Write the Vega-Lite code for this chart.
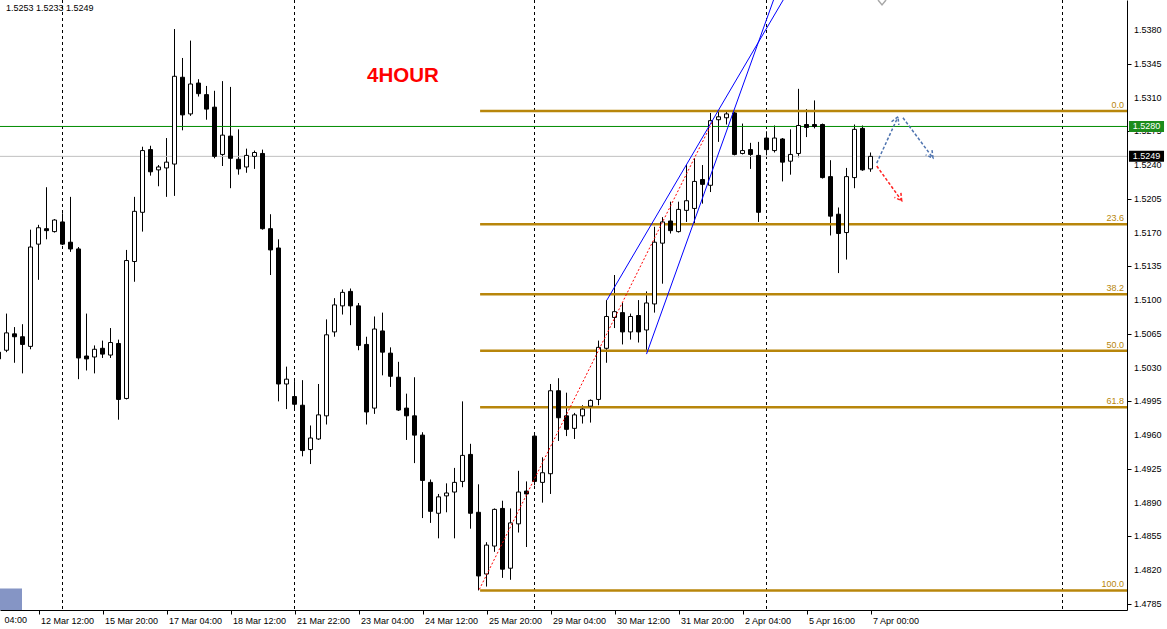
{
  "$schema": "https://vega.github.io/schema/vega-lite/v6.json",
  "width": 1167,
  "height": 629,
  "autosize": {"type": "fit", "contains": "padding"},
  "padding": {"left": 0, "top": 0, "right": 1, "bottom": 4},
  "background": "white",
  "config": {
    "view": {"stroke": null},
    "scale": {"continuousPadding": 0},
    "axis": {"domainWidth": 1, "tickWidth": 1, "labelOverlap": false, "labelBound": false, "labelFlush": false}
  },
  "datasets": {
    "candles": [
      {"k":-1,"o":1.5046,"h":1.5052,"l":1.5035,"c":1.5039},
      {"k":0,"o":1.5048,"h":1.5086,"l":1.5046,"c":1.5066},
      {"k":1,"o":1.5065,"h":1.5072,"l":1.5035,"c":1.5062},
      {"k":2,"o":1.5062,"h":1.5075,"l":1.5024,"c":1.5054},
      {"k":3,"o":1.5052,"h":1.5173,"l":1.5049,"c":1.5155},
      {"k":4,"o":1.5158,"h":1.5178,"l":1.5121,"c":1.5175},
      {"k":5,"o":1.5174,"h":1.5217,"l":1.5163,"c":1.5172},
      {"k":6,"o":1.5171,"h":1.5184,"l":1.5170,"c":1.5183},
      {"k":7,"o":1.5181,"h":1.5190,"l":1.5157,"c":1.5158},
      {"k":8,"o":1.5160,"h":1.5207,"l":1.5150,"c":1.5153},
      {"k":9,"o":1.5153,"h":1.5155,"l":1.5018,"c":1.5040},
      {"k":10,"o":1.5042,"h":1.5086,"l":1.5027,"c":1.5039},
      {"k":11,"o":1.5041,"h":1.5053,"l":1.5024,"c":1.5049},
      {"k":12,"o":1.5050,"h":1.5058,"l":1.5040,"c":1.5044},
      {"k":13,"o":1.5043,"h":1.5071,"l":1.5040,"c":1.5056},
      {"k":14,"o":1.5055,"h":1.5059,"l":1.4976,"c":1.4997},
      {"k":15,"o":1.4998,"h":1.5152,"l":1.4997,"c":1.5141},
      {"k":16,"o":1.5140,"h":1.5207,"l":1.5119,"c":1.5192},
      {"k":17,"o":1.5191,"h":1.5259,"l":1.5171,"c":1.5255},
      {"k":18,"o":1.5256,"h":1.5260,"l":1.5229,"c":1.5233},
      {"k":19,"o":1.5235,"h":1.5240,"l":1.5218,"c":1.5238},
      {"k":20,"o":1.5237,"h":1.5268,"l":1.5207,"c":1.5243},
      {"k":21,"o":1.5241,"h":1.5381,"l":1.5208,"c":1.5332},
      {"k":22,"o":1.5331,"h":1.5351,"l":1.5276,"c":1.5292},
      {"k":23,"o":1.5293,"h":1.5369,"l":1.5291,"c":1.5324},
      {"k":24,"o":1.5325,"h":1.5329,"l":1.5311,"c":1.5314},
      {"k":25,"o":1.5313,"h":1.5322,"l":1.5287,"c":1.5298},
      {"k":26,"o":1.5300,"h":1.5317,"l":1.5247,"c":1.5249},
      {"k":27,"o":1.5251,"h":1.5327,"l":1.5239,"c":1.5271},
      {"k":28,"o":1.5270,"h":1.5321,"l":1.5216,"c":1.5247},
      {"k":29,"o":1.5246,"h":1.5277,"l":1.5230,"c":1.5236},
      {"k":30,"o":1.5238,"h":1.5257,"l":1.5232,"c":1.5250},
      {"k":31,"o":1.5249,"h":1.5255,"l":1.5236,"c":1.5253},
      {"k":32,"o":1.5252,"h":1.5256,"l":1.5173,"c":1.5174},
      {"k":33,"o":1.5174,"h":1.5189,"l":1.5126,"c":1.5152},
      {"k":34,"o":1.5154,"h":1.5163,"l":1.4995,"c":1.5013},
      {"k":35,"o":1.5013,"h":1.5031,"l":1.4987,"c":1.5018},
      {"k":36,"o":1.5000,"h":1.5016,"l":1.4987,"c":1.4992},
      {"k":37,"o":1.4991,"h":1.5017,"l":1.4938,"c":1.4944},
      {"k":38,"o":1.4945,"h":1.4970,"l":1.4930,"c":1.4957},
      {"k":39,"o":1.4956,"h":1.5013,"l":1.4955,"c":1.4981},
      {"k":40,"o":1.4980,"h":1.5080,"l":1.4971,"c":1.5064},
      {"k":41,"o":1.5067,"h":1.5102,"l":1.5062,"c":1.5095},
      {"k":42,"o":1.5094,"h":1.5111,"l":1.5085,"c":1.5108},
      {"k":43,"o":1.5109,"h":1.5112,"l":1.5074,"c":1.5094},
      {"k":44,"o":1.5094,"h":1.5097,"l":1.5048,"c":1.5053},
      {"k":45,"o":1.5054,"h":1.5062,"l":1.4971,"c":1.4984},
      {"k":46,"o":1.4988,"h":1.5083,"l":1.4982,"c":1.5070},
      {"k":47,"o":1.5068,"h":1.5087,"l":1.5022,"c":1.5046},
      {"k":48,"o":1.5045,"h":1.5051,"l":1.5010,"c":1.5021},
      {"k":49,"o":1.5020,"h":1.5036,"l":1.4985,"c":1.4986},
      {"k":50,"o":1.4988,"h":1.5003,"l":1.4955,"c":1.4980},
      {"k":51,"o":1.4980,"h":1.5020,"l":1.4931,"c":1.4960},
      {"k":52,"o":1.4960,"h":1.4963,"l":1.4874,"c":1.4913},
      {"k":53,"o":1.4911,"h":1.4914,"l":1.4869,"c":1.4881},
      {"k":54,"o":1.4879,"h":1.4899,"l":1.4853,"c":1.4896},
      {"k":55,"o":1.4897,"h":1.4910,"l":1.4880,"c":1.4900},
      {"k":56,"o":1.4901,"h":1.4926,"l":1.4853,"c":1.4911},
      {"k":57,"o":1.4912,"h":1.4995,"l":1.4906,"c":1.4939},
      {"k":58,"o":1.4940,"h":1.4951,"l":1.4863,"c":1.4879},
      {"k":59,"o":1.4880,"h":1.4909,"l":1.4799,"c":1.4814},
      {"k":60,"o":1.4816,"h":1.4849,"l":1.4803,"c":1.4846},
      {"k":61,"o":1.4845,"h":1.4884,"l":1.4839,"c":1.4883},
      {"k":62,"o":1.4884,"h":1.4892,"l":1.4812,"c":1.4821},
      {"k":63,"o":1.4822,"h":1.4884,"l":1.4810,"c":1.4869},
      {"k":64,"o":1.4868,"h":1.4923,"l":1.4859,"c":1.4901},
      {"k":65,"o":1.4902,"h":1.4912,"l":1.4844,"c":1.4899},
      {"k":66,"o":1.4959,"h":1.4961,"l":1.4908,"c":1.4912},
      {"k":67,"o":1.4911,"h":1.4937,"l":1.4890,"c":1.4921},
      {"k":68,"o":1.4920,"h":1.5013,"l":1.4899,"c":1.5006},
      {"k":69,"o":1.5006,"h":1.5019,"l":1.4954,"c":1.4978},
      {"k":70,"o":1.4980,"h":1.5004,"l":1.4959,"c":1.4966},
      {"k":71,"o":1.4967,"h":1.4983,"l":1.4956,"c":1.4981},
      {"k":72,"o":1.4980,"h":1.4991,"l":1.4972,"c":1.4987},
      {"k":73,"o":1.4990,"h":1.4997,"l":1.4973,"c":1.4996},
      {"k":74,"o":1.4997,"h":1.5058,"l":1.4991,"c":1.5051},
      {"k":75,"o":1.5050,"h":1.5100,"l":1.5035,"c":1.5083},
      {"k":76,"o":1.5082,"h":1.5126,"l":1.5071,"c":1.5088},
      {"k":77,"o":1.5087,"h":1.5097,"l":1.5054,"c":1.5067},
      {"k":78,"o":1.5067,"h":1.5086,"l":1.5059,"c":1.5083},
      {"k":79,"o":1.5084,"h":1.5100,"l":1.5056,"c":1.5067},
      {"k":80,"o":1.5069,"h":1.5109,"l":1.5046,"c":1.5097},
      {"k":81,"o":1.5096,"h":1.5176,"l":1.5087,"c":1.5160},
      {"k":82,"o":1.5159,"h":1.5186,"l":1.5117,"c":1.5181},
      {"k":83,"o":1.5182,"h":1.5202,"l":1.5169,"c":1.5172},
      {"k":84,"o":1.5171,"h":1.5202,"l":1.5170,"c":1.5194},
      {"k":85,"o":1.5193,"h":1.5240,"l":1.5181,"c":1.5203},
      {"k":86,"o":1.5195,"h":1.5247,"l":1.5179,"c":1.5223},
      {"k":87,"o":1.5225,"h":1.5240,"l":1.5200,"c":1.5220},
      {"k":88,"o":1.5219,"h":1.5294,"l":1.5212,"c":1.5286},
      {"k":89,"o":1.5287,"h":1.5296,"l":1.5264,"c":1.5290},
      {"k":90,"o":1.5289,"h":1.5296,"l":1.5282,"c":1.5293},
      {"k":91,"o":1.5294,"h":1.5296,"l":1.5250,"c":1.5251},
      {"k":92,"o":1.5252,"h":1.5283,"l":1.5251,"c":1.5255},
      {"k":93,"o":1.5256,"h":1.5263,"l":1.5236,"c":1.5251},
      {"k":94,"o":1.5250,"h":1.5264,"l":1.5181,"c":1.5191},
      {"k":95,"o":1.5268,"h":1.5275,"l":1.5250,"c":1.5256},
      {"k":96,"o":1.5255,"h":1.5281,"l":1.5253,"c":1.5268},
      {"k":97,"o":1.5267,"h":1.5268,"l":1.5223,"c":1.5243},
      {"k":98,"o":1.5244,"h":1.5277,"l":1.5230,"c":1.5251},
      {"k":99,"o":1.5252,"h":1.5319,"l":1.5248,"c":1.5281},
      {"k":100,"o":1.5282,"h":1.5298,"l":1.5269,"c":1.5279},
      {"k":101,"o":1.5282,"h":1.5307,"l":1.5278,"c":1.5280},
      {"k":102,"o":1.5282,"h":1.5283,"l":1.5226,"c":1.5227},
      {"k":103,"o":1.5228,"h":1.5245,"l":1.5167,"c":1.5187},
      {"k":104,"o":1.5189,"h":1.5196,"l":1.5128,"c":1.5169},
      {"k":105,"o":1.5170,"h":1.5237,"l":1.5142,"c":1.5228},
      {"k":106,"o":1.5227,"h":1.5282,"l":1.5216,"c":1.5277},
      {"k":107,"o":1.5278,"h":1.5281,"l":1.5234,"c":1.5235},
      {"k":108,"o":1.5236,"h":1.5253,"l":1.5233,"c":1.5249}
    ],
    "separators": [{"k":7},{"k":36},{"k":66},{"k":95},{"k":132}],
    "pticks": [
      {"p":1.4785},{"p":1.4820},{"p":1.4855},{"p":1.4890},{"p":1.4925},{"p":1.4960},
      {"p":1.4995},{"p":1.5030},{"p":1.5065},{"p":1.5100},{"p":1.5135},{"p":1.5170},
      {"p":1.5205},{"p":1.5240},{"p":1.5275},{"p":1.5310},{"p":1.5345},{"p":1.5380}
    ],
    "fib": [
      {"level":"0.0","p":1.5296},
      {"level":"23.6","p":1.51787},
      {"level":"38.2","p":1.51061},
      {"level":"50.0","p":1.50475},
      {"level":"61.8","p":1.49889},
      {"level":"100.0","p":1.4799}
    ],
    "levels": [
      {"name":"bid","p":1.5249,"t":"1.5249"},
      {"name":"alert","p":1.5280,"t":"1.5280"}
    ],
    "drawings": [
      {"id":"ch1","kind":"channel","o":0,"k":75.05,"p":1.5100},
      {"id":"ch1","kind":"channel","o":1,"k":98.0,"p":1.5424},
      {"id":"ch2","kind":"channel","o":0,"k":80.0,"p":1.5044},
      {"id":"ch2","kind":"channel","o":1,"k":97.0,"p":1.5437},
      {"id":"tr","kind":"trend","o":0,"k":59.1,"p":1.4800},
      {"id":"tr","kind":"trend","o":1,"k":88.2,"p":1.5284},
      {"id":"up","kind":"bull","o":0,"k":108.78,"p":1.5242},
      {"id":"up","kind":"bull","o":1,"k":111.44,"p":1.5290},
      {"id":"uph","kind":"bull","o":0,"k":110.63,"p":1.52849},
      {"id":"uph","kind":"bull","o":1,"k":111.44,"p":1.5290},
      {"id":"uph","kind":"bull","o":2,"k":111.54,"p":1.52815},
      {"id":"dn","kind":"bull","o":0,"k":112.06,"p":1.5289},
      {"id":"dn","kind":"bull","o":1,"k":115.81,"p":1.52473},
      {"id":"dnh","kind":"bull","o":0,"k":115.69,"p":1.52555},
      {"id":"dnh","kind":"bull","o":1,"k":115.81,"p":1.52473},
      {"id":"dnh","kind":"bull","o":2,"k":114.89,"p":1.52505},
      {"id":"rd","kind":"bear","o":0,"k":108.78,"p":1.5239},
      {"id":"rd","kind":"bear","o":1,"k":111.9,"p":1.5203},
      {"id":"rdh","kind":"bear","o":0,"k":111.8,"p":1.52112},
      {"id":"rdh","kind":"bear","o":1,"k":111.9,"p":1.5203},
      {"id":"rdh","kind":"bear","o":2,"k":110.99,"p":1.52065},
      {"id":"gh","kind":"old","o":0,"k":108.94,"p":1.54111},
      {"id":"gh","kind":"old","o":1,"k":109.44,"p":1.5406},
      {"id":"gh","kind":"old","o":2,"k":109.94,"p":1.54111}
    ]
  },
  "layer": [
    {
      "data": {"name": "candles"},
      "mark": {"type": "rule", "color": "#000000", "strokeWidth": 1, "clip": true},
      "encoding": {
        "x": {"field": "k", "type": "quantitative", "scale": {"domain": [-0.8125, 140.0625], "nice": false, "zero": false, "padding": 0},
          "axis": {"title": null, "grid": false, "values": [4,12,20,28,36,44,52,60,68,76,84,92,100,108],
            "labelExpr": "['12 Mar 12:00','15 Mar 20:00','17 Mar 04:00','18 Mar 12:00','21 Mar 22:00','23 Mar 04:00','24 Mar 12:00','25 Mar 20:00','29 Mar 04:00','30 Mar 12:00','31 Mar 20:00','2 Apr 04:00','5 Apr 16:00','7 Apr 00:00'][round((datum.value-4)/8)]",
            "tickSize": 4, "tickColor": "#000000", "domainColor": "#000000", "labelAlign": "left", "labelOffset": 2, "labelPadding": 2, "labelBaseline": "top",
            "labelOverlap": false, "labelBound": false, "labelFlush": false, "labelFont": "Liberation Sans", "labelFontSize": 9, "labelColor": "#000000"}},
        "y": {"field": "l", "type": "quantitative", "scale": {"domain": [1.47787, 1.54111], "nice": false, "zero": false, "padding": 0},
          "axis": {"title": null, "grid": false, "orient": "right", "labels": false,
            "values": [1.4785,1.482,1.4855,1.489,1.4925,1.496,1.4995,1.503,1.5065,1.51,1.5135,1.517,1.5205,1.524,1.5275,1.531,1.5345,1.538],
            "tickSize": 4, "tickColor": "#000000", "domainColor": "#000000"}},
        "y2": {"field": "h"}
      }
    },
    {
      "data": {"name": "separators"},
      "mark": {"type": "rule", "color": "#000000", "strokeWidth": 1, "strokeDash": [3, 3], "clip": true},
      "encoding": {
        "x": {"field": "k", "type": "quantitative", "scale": {"domain": [-0.8125, 140.0625], "nice": false, "zero": false, "padding": 0}}
      }
    },
    {
      "data": {"name": "levels"},
      "transform": [{"filter": "datum.name === 'bid'"}],
      "mark": {"type": "rule", "color": "#C0C0C0", "strokeWidth": 1, "clip": true},
      "encoding": {
        "y": {"field": "p", "type": "quantitative", "scale": {"domain": [1.47787, 1.54111], "nice": false, "zero": false, "padding": 0}}
      }
    },
    {
      "data": {"name": "levels"},
      "transform": [{"filter": "datum.name === 'alert'"}],
      "mark": {"type": "rule", "color": "#008C00", "strokeWidth": 1, "clip": true},
      "encoding": {
        "y": {"field": "p", "type": "quantitative", "scale": {"domain": [1.47787, 1.54111], "nice": false, "zero": false, "padding": 0}}
      }
    },
    {
      "data": {"name": "fib"},
      "mark": {"type": "rule", "color": "#B8860B", "strokeWidth": 2.5, "clip": true},
      "encoding": {
        "x": {"datum": 59.2, "type": "quantitative", "scale": {"domain": [-0.8125, 140.0625], "nice": false, "zero": false, "padding": 0}},
        "x2": {"datum": 140.0625},
        "y": {"field": "p", "type": "quantitative", "scale": {"domain": [1.47787, 1.54111], "nice": false, "zero": false, "padding": 0}}
      }
    },
    {
      "data": {"name": "candles"},
      "mark": {"type": "bar", "size": 4, "stroke": "#000000", "strokeWidth": 1, "orient": "vertical", "clip": true},
      "encoding": {
        "x": {"field": "k", "type": "quantitative", "scale": {"domain": [-0.8125, 140.0625], "nice": false, "zero": false, "padding": 0}},
        "y": {"field": "o", "type": "quantitative", "scale": {"domain": [1.47787, 1.54111], "nice": false, "zero": false, "padding": 0}},
        "y2": {"field": "c"},
        "fill": {"condition": {"test": "datum.c >= datum.o", "value": "#FFFFFF"}, "value": "#000000"}
      }
    },
    {
      "data": {"name": "drawings"},
      "transform": [{"filter": "datum.kind === 'channel'"}],
      "mark": {"type": "line", "color": "#0000FF", "strokeWidth": 1, "clip": true},
      "encoding": {
        "x": {"field": "k", "type": "quantitative", "scale": {"domain": [-0.8125, 140.0625], "nice": false, "zero": false, "padding": 0}},
        "y": {"field": "p", "type": "quantitative", "scale": {"domain": [1.47787, 1.54111], "nice": false, "zero": false, "padding": 0}},
        "detail": {"field": "id"},
        "order": {"field": "o"}
      }
    },
    {
      "data": {"name": "drawings"},
      "transform": [{"filter": "datum.kind === 'trend'"}],
      "mark": {"type": "line", "color": "#FF0000", "strokeWidth": 1, "strokeDash": [2, 2], "clip": true},
      "encoding": {
        "x": {"field": "k", "type": "quantitative", "scale": {"domain": [-0.8125, 140.0625], "nice": false, "zero": false, "padding": 0}},
        "y": {"field": "p", "type": "quantitative", "scale": {"domain": [1.47787, 1.54111], "nice": false, "zero": false, "padding": 0}},
        "detail": {"field": "id"},
        "order": {"field": "o"}
      }
    },
    {
      "data": {"name": "drawings"},
      "transform": [{"filter": "datum.kind === 'bull'"}],
      "mark": {"type": "line", "color": "#4F74B0", "strokeWidth": 1.5, "strokeDash": [3, 2], "clip": true},
      "encoding": {
        "x": {"field": "k", "type": "quantitative", "scale": {"domain": [-0.8125, 140.0625], "nice": false, "zero": false, "padding": 0}},
        "y": {"field": "p", "type": "quantitative", "scale": {"domain": [1.47787, 1.54111], "nice": false, "zero": false, "padding": 0}},
        "detail": {"field": "id"},
        "order": {"field": "o"}
      }
    },
    {
      "data": {"name": "drawings"},
      "transform": [{"filter": "datum.kind === 'bear'"}],
      "mark": {"type": "line", "color": "#FF2020", "strokeWidth": 1.5, "strokeDash": [3, 2], "clip": true},
      "encoding": {
        "x": {"field": "k", "type": "quantitative", "scale": {"domain": [-0.8125, 140.0625], "nice": false, "zero": false, "padding": 0}},
        "y": {"field": "p", "type": "quantitative", "scale": {"domain": [1.47787, 1.54111], "nice": false, "zero": false, "padding": 0}},
        "detail": {"field": "id"},
        "order": {"field": "o"}
      }
    },
    {
      "data": {"name": "drawings"},
      "transform": [{"filter": "datum.kind === 'old'"}],
      "mark": {"type": "line", "color": "#A8A8A8", "strokeWidth": 1.5, "clip": true},
      "encoding": {
        "x": {"field": "k", "type": "quantitative", "scale": {"domain": [-0.8125, 140.0625], "nice": false, "zero": false, "padding": 0}},
        "y": {"field": "p", "type": "quantitative", "scale": {"domain": [1.47787, 1.54111], "nice": false, "zero": false, "padding": 0}},
        "detail": {"field": "id"},
        "order": {"field": "o"}
      }
    },
    {
      "data": {"name": "fib"},
      "mark": {"type": "text", "align": "right", "baseline": "alphabetic", "dx": -3, "dy": -3, "font": "Liberation Sans", "fontSize": 9, "color": "#B8860B", "clip": true},
      "encoding": {
        "x": {"datum": 140.0625, "type": "quantitative", "scale": {"domain": [-0.8125, 140.0625], "nice": false, "zero": false, "padding": 0}},
        "y": {"field": "p", "type": "quantitative", "scale": {"domain": [1.47787, 1.54111], "nice": false, "zero": false, "padding": 0}},
        "text": {"field": "level"}
      }
    },
    {
      "data": {"name": "pticks"},
      "mark": {"type": "text", "align": "left", "baseline": "middle", "dx": 7, "font": "Liberation Sans", "fontSize": 9, "color": "#000000", "clip": false},
      "encoding": {
        "x": {"datum": 140.0625, "type": "quantitative", "scale": {"domain": [-0.8125, 140.0625], "nice": false, "zero": false, "padding": 0}},
        "y": {"field": "p", "type": "quantitative", "scale": {"domain": [1.47787, 1.54111], "nice": false, "zero": false, "padding": 0}},
        "text": {"field": "p", "type": "quantitative", "format": ".4f"}
      }
    },
    {
      "data": {"values": [{"k": 49.55, "p": 1.53328, "t": "4HOUR"}]},
      "mark": {"type": "text", "align": "center", "baseline": "middle", "font": "Liberation Sans", "fontWeight": "bold", "fontSize": 20.5, "color": "#FF0000", "clip": true},
      "encoding": {
        "x": {"field": "k", "type": "quantitative", "scale": {"domain": [-0.8125, 140.0625], "nice": false, "zero": false, "padding": 0}},
        "y": {"field": "p", "type": "quantitative", "scale": {"domain": [1.47787, 1.54111], "nice": false, "zero": false, "padding": 0}},
        "text": {"field": "t"}
      }
    },
    {
      "data": {"values": [{"k": -0.06, "p": 1.54033, "t": "1.5253 1.5233 1.5249"}]},
      "mark": {"type": "text", "align": "left", "baseline": "middle", "font": "Liberation Sans", "fontSize": 9, "color": "#000000", "clip": true},
      "encoding": {
        "x": {"field": "k", "type": "quantitative", "scale": {"domain": [-0.8125, 140.0625], "nice": false, "zero": false, "padding": 0}},
        "y": {"field": "p", "type": "quantitative", "scale": {"domain": [1.47787, 1.54111], "nice": false, "zero": false, "padding": 0}},
        "text": {"field": "t"}
      }
    },
    {
      "data": {"name": "levels"},
      "mark": {"type": "bar", "orient": "horizontal", "size": 11, "clip": false},
      "encoding": {
        "x": {"datum": 140.31, "type": "quantitative", "scale": {"domain": [-0.8125, 140.0625], "nice": false, "zero": false, "padding": 0}},
        "x2": {"datum": 144.69},
        "y": {"field": "p", "type": "quantitative", "scale": {"domain": [1.47787, 1.54111], "nice": false, "zero": false, "padding": 0}},
        "color": {"field": "name", "type": "nominal", "scale": {"domain": ["bid", "alert"], "range": ["#000000", "#1C8C1C"]}, "legend": null}
      }
    },
    {
      "data": {"name": "levels"},
      "mark": {"type": "text", "align": "center", "baseline": "middle", "font": "Liberation Sans", "fontSize": 9, "color": "#FFFFFF", "clip": false},
      "encoding": {
        "x": {"datum": 142.5, "type": "quantitative", "scale": {"domain": [-0.8125, 140.0625], "nice": false, "zero": false, "padding": 0}},
        "y": {"field": "p", "type": "quantitative", "scale": {"domain": [1.47787, 1.54111], "nice": false, "zero": false, "padding": 0}},
        "text": {"field": "t"}
      }
    },
    {
      "data": {"values": [{"k": -0.24, "t": "04:00"}]},
      "mark": {"type": "text", "align": "left", "baseline": "top", "dy": 6, "font": "Liberation Sans", "fontSize": 9, "color": "#000000", "clip": false},
      "encoding": {
        "x": {"field": "k", "type": "quantitative", "scale": {"domain": [-0.8125, 140.0625], "nice": false, "zero": false, "padding": 0}},
        "y": {"datum": 1.47787, "type": "quantitative", "scale": {"domain": [1.47787, 1.54111], "nice": false, "zero": false, "padding": 0}},
        "text": {"field": "t"}
      }
    },
    {
      "data": {"values": [{"name": "scroll"}]},
      "mark": {"type": "rect", "color": "#8595C5", "clip": false},
      "encoding": {
        "x": {"datum": -0.8125, "type": "quantitative", "scale": {"domain": [-0.8125, 140.0625], "nice": false, "zero": false, "padding": 0}},
        "x2": {"datum": 1.94},
        "y": {"datum": 1.4801, "type": "quantitative", "scale": {"domain": [1.47787, 1.54111], "nice": false, "zero": false, "padding": 0}},
        "y2": {"datum": 1.47787}
      }
    }
  ]
}
